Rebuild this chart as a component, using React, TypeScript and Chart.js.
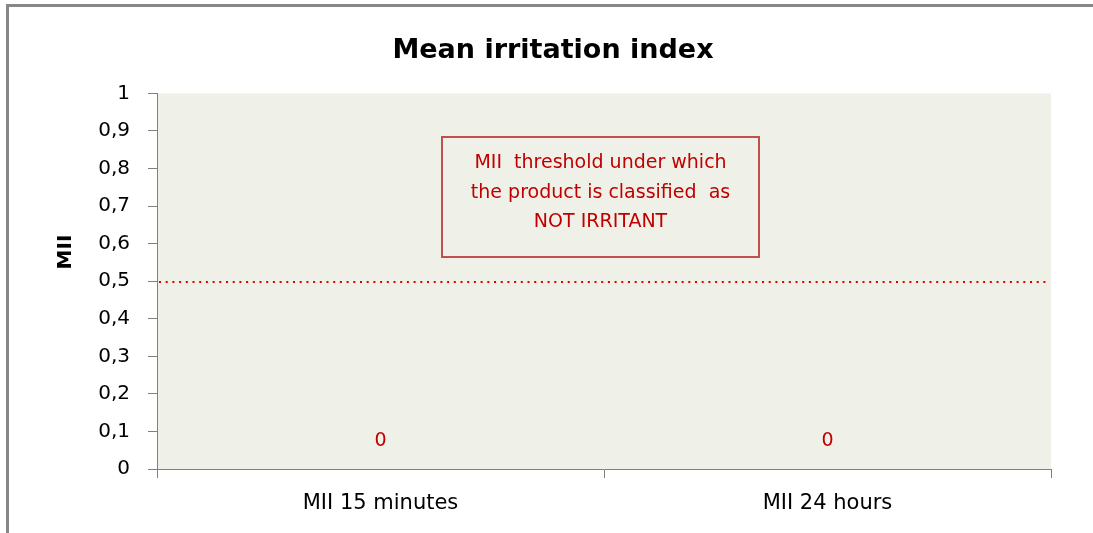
import React, { useEffect, useRef } from "react";
import { Chart, registerables } from "chart.js";

Chart.register(...registerables);

const chartTitle = "Mean irritation index";
const yAxisTitle = "MII";
const categories = ["MII 15 minutes", "MII 24 hours"];
const miiValues = [0, 0];
const thresholdValue = 0.5;
const noteLines = ["MII  threshold under which", "the product is classified  as", "NOT IRRITANT"];
const yMin = 0;
const yMax = 1;
const yStep = 0.1;

const FONT = "'DejaVu Sans', Verdana, sans-serif";

const fmt = (v: number) => {
  const r = Math.round(v * 10) / 10;
  return String(r).replace(".", ",");
};

const decorPlugin = {
  id: "decor",
  beforeDraw(chart: any) {
    const { ctx, chartArea: a, width, height } = chart;
    ctx.save();
    // outer frame (top + left)
    ctx.strokeStyle = "#878787";
    ctx.lineWidth = 3;
    ctx.beginPath();
    ctx.moveTo(7.5, height);
    ctx.lineTo(7.5, 5.5);
    ctx.lineTo(width, 5.5);
    ctx.stroke();
    // plot background
    ctx.fillStyle = "#EFF1E8";
    ctx.fillRect(a.left, a.top, a.right - a.left, a.bottom - a.top);
    ctx.restore();
  },
  afterDraw(chart: any) {
    const { ctx, chartArea: a } = chart;
    const yScale = chart.scales.y;
    ctx.save();
    // y axis title
    ctx.fillStyle = "#000";
    ctx.font = `bold 20px ${FONT}`;
    ctx.textAlign = "center";
    ctx.textBaseline = "middle";
    ctx.translate(66, 252);
    ctx.rotate(-Math.PI / 2);
    ctx.fillText(yAxisTitle, 0, 0);
    ctx.restore();

    // threshold dotted line
    ctx.save();
    const ty = Math.round(yScale.getPixelForValue(thresholdValue)) + 1;
    ctx.strokeStyle = "#E00000";
    ctx.lineWidth = 2;
    ctx.setLineDash([2, 4.7]);
    ctx.beginPath();
    ctx.moveTo(a.left + 2, ty);
    ctx.lineTo(a.right - 4, ty);
    ctx.stroke();
    ctx.restore();

    // annotation box
    ctx.save();
    const w = a.right - a.left;
    const h = a.bottom - a.top;
    const bx0 = a.left + w * 0.3188;
    const bx1 = a.left + w * 0.6734;
    const by0 = a.top + h * 0.117;
    const by1 = a.top + h * 0.436;
    ctx.strokeStyle = "#C0504D";
    ctx.lineWidth = 2;
    ctx.strokeRect(Math.round(bx0), Math.round(by0), Math.round(bx1 - bx0), Math.round(by1 - by0));
    ctx.fillStyle = "#C00000";
    ctx.font = `19px ${FONT}`;
    ctx.textAlign = "center";
    ctx.textBaseline = "middle";
    const cx = (bx0 + bx1) / 2;
    noteLines.forEach((line, i) => {
      ctx.fillText(line, cx, by0 + 26 + i * 29.5);
    });
    ctx.restore();

    // value labels
    ctx.save();
    ctx.fillStyle = "#C00000";
    ctx.font = `19px ${FONT}`;
    ctx.textAlign = "center";
    ctx.textBaseline = "middle";
    const meta = chart.getDatasetMeta(0);
    meta.data.forEach((el: any, i: number) => {
      ctx.fillText(String(miiValues[i]), el.x, el.y - 28);
    });
    ctx.restore();
  },
};

export default function App() {
  const ref = useRef<HTMLCanvasElement | null>(null);
  useEffect(() => {
    if (!ref.current) return;
    const chart = new Chart(ref.current, {
      type: "bar",
      data: {
        labels: categories,
        datasets: [
          {
            label: yAxisTitle,
            data: miiValues,
            backgroundColor: "#4F81BD",
            borderWidth: 0,
          },
        ],
      },
      options: {
        animation: false,
        responsive: false,
        layout: { padding: { left: 55, right: 42, top: 0, bottom: 0 } },
        plugins: {
          legend: { display: false },
          tooltip: { enabled: false },
          title: {
            display: true,
            text: chartTitle,
            color: "#000",
            font: { family: FONT, size: 27, weight: "bold" },
            padding: { top: 35, bottom: 26 },
          },
        },
        scales: {
          x: {
            grid: {
              offset: true,
              drawOnChartArea: false,
              drawTicks: true,
              tickLength: 9,
              color: "#7F7F7F",
            },
            border: { color: "#7F7F7F", width: 1 },
            ticks: {
              color: "#000",
              font: { family: FONT, size: 21 },
              padding: 13,
              maxRotation: 0,
            },
            afterFit: (s: any) => {
              s.height = 64;
            },
          },
          y: {
            min: yMin,
            max: yMax,
            grid: {
              drawOnChartArea: false,
              drawTicks: true,
              tickLength: 9,
              color: "#7F7F7F",
            },
            border: { color: "#7F7F7F", width: 1 },
            ticks: {
              stepSize: yStep,
              color: "#000",
              font: { family: FONT, size: 20 },
              padding: 18,
              callback: (v: any) => fmt(Number(v)),
            },
            afterFit: (s: any) => {
              s.width = 102;
            },
          },
        },
      },
      plugins: [decorPlugin],
    });
    return () => chart.destroy();
  }, []);
  return (
    <div style={{ position: "fixed", left: 0, top: 0, width: 1093, height: 533, background: "#fff" }}>
      <canvas ref={ref} width={1093} height={533} style={{ display: "block" }} />
    </div>
  );
}
